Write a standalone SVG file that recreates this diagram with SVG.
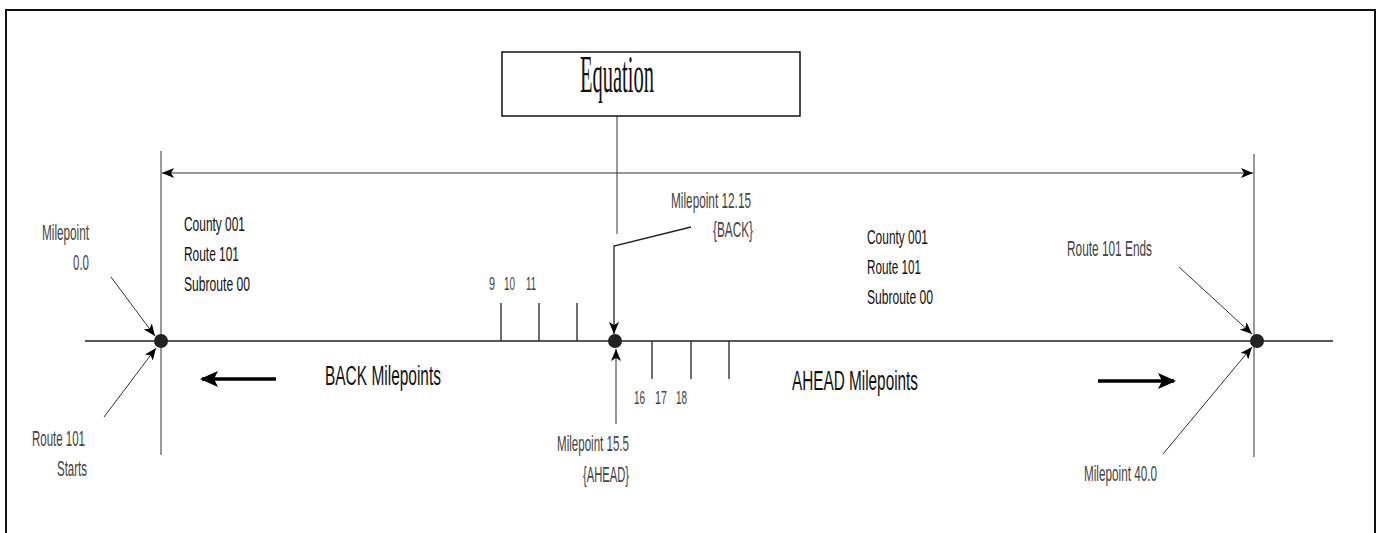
<svg xmlns="http://www.w3.org/2000/svg" width="1377" height="533" viewBox="0 0 1377 533">
<style>
  .ln { stroke: #222; stroke-width: 1.3; fill: none; }
  .thin { stroke: #333; stroke-width: 1; fill: none; }
  .thick { stroke: #000; stroke-width: 3.5; fill: none; }
  .lbl { font-family: "Liberation Sans", Arial, sans-serif; font-size: 22px; fill: #444; }
  .num { font-family: "Liberation Sans", Arial, sans-serif; font-size: 18px; fill: #444; }
  .info { font-family: "Liberation Sans", Arial, sans-serif; font-size: 21px; fill: #111; }
  .big { font-family: "Liberation Sans", Arial, sans-serif; font-size: 27px; fill: #111; }
  .eq { font-family: "Liberation Serif", "Times New Roman", serif; font-size: 53px; fill: #111; }
  .dot { fill: #222; }
</style>
<defs>
  <marker id="ah" viewBox="0 0 12 10" refX="12" refY="5" markerWidth="12" markerHeight="10" orient="auto-start-reverse" markerUnits="userSpaceOnUse">
    <path d="M0,0 L12,5 L0,10 L3,5 z" fill="#000"/>
  </marker>
  <marker id="ahs" viewBox="0 0 12 10" refX="12" refY="5" markerWidth="12" markerHeight="10" orient="auto" markerUnits="userSpaceOnUse">
    <path d="M0,0 L12,5 L0,10 L3,5 z" fill="#000"/>
  </marker>
  <marker id="ahb" viewBox="0 0 18 16" refX="16" refY="8" markerWidth="18" markerHeight="16" orient="auto" markerUnits="userSpaceOnUse">
    <path d="M0,0 L18,8 L0,16 L4,8 z" fill="#000"/>
  </marker>
</defs>
<rect width="1377" height="533" fill="#fff"/>
<rect x="6" y="10" width="1369" height="530" fill="none" stroke="#111" stroke-width="2"/>

<g id="connectors">
  <line class="ln" x1="85" y1="341" x2="1333" y2="341"/>
  <line class="thin" x1="161" y1="151" x2="161" y2="455"/>
  <line class="thin" x1="1254" y1="154" x2="1254" y2="457"/>
  <line class="thin" x1="162" y1="173" x2="1253" y2="173" marker-start="url(#ah)" marker-end="url(#ah)"/>
  <line class="thin" x1="617" y1="116" x2="617" y2="234"/>
  <polyline class="ln" points="691,227 614,246 614,334" marker-end="url(#ahs)"/>
  <line class="thin" x1="616" y1="424" x2="616" y2="349" marker-end="url(#ahs)"/>
  <line class="thin" x1="111" y1="277" x2="155" y2="336" marker-end="url(#ahs)"/>
  <line class="thin" x1="104" y1="417" x2="156" y2="348" marker-end="url(#ahs)"/>
  <line class="thin" x1="1179" y1="267" x2="1252" y2="334" marker-end="url(#ahs)"/>
  <line class="thin" x1="1163" y1="454" x2="1252" y2="347" marker-end="url(#ahs)"/>
  <line class="ln" x1="501" y1="303" x2="501" y2="341"/>
  <line class="ln" x1="539" y1="303" x2="539" y2="341"/>
  <line class="ln" x1="577" y1="303" x2="577" y2="341"/>
  <line class="ln" x1="652" y1="341" x2="652" y2="379"/>
  <line class="ln" x1="691" y1="341" x2="691" y2="379"/>
  <line class="ln" x1="729" y1="341" x2="729" y2="379"/>
  <line class="thick" x1="276" y1="379" x2="202" y2="379" marker-end="url(#ahb)"/>
  <line class="thick" x1="1098" y1="381" x2="1174" y2="381" marker-end="url(#ahb)"/>
</g>

<g id="node-equation">
  <rect x="502" y="52" width="298" height="64" fill="#fff" stroke="#111" stroke-width="1.5"/>
  <text class="eq" x="580" y="92" textLength="74" lengthAdjust="spacingAndGlyphs">Equation</text>
</g>

<g id="node-start">
  <circle class="dot" cx="161" cy="341" r="7"/>
  <text class="lbl" x="42" y="240" textLength="47" lengthAdjust="spacingAndGlyphs">Milepoint</text>
  <text class="lbl" x="73" y="270" textLength="16" lengthAdjust="spacingAndGlyphs">0.0</text>
  <text class="lbl" x="32" y="446" textLength="53" lengthAdjust="spacingAndGlyphs">Route 101</text>
  <text class="lbl" x="57" y="476" textLength="30" lengthAdjust="spacingAndGlyphs">Starts</text>
</g>

<g id="node-info-back">
  <text class="info" x="184" y="231" textLength="61" lengthAdjust="spacingAndGlyphs">County 001</text>
  <text class="info" x="184" y="261" textLength="55" lengthAdjust="spacingAndGlyphs">Route 101</text>
  <text class="info" x="184" y="291" textLength="66" lengthAdjust="spacingAndGlyphs">Subroute 00</text>
</g>

<g id="node-info-ahead">
  <text class="info" x="867" y="244" textLength="61" lengthAdjust="spacingAndGlyphs">County 001</text>
  <text class="info" x="867" y="274" textLength="54" lengthAdjust="spacingAndGlyphs">Route 101</text>
  <text class="info" x="867" y="304" textLength="66" lengthAdjust="spacingAndGlyphs">Subroute 00</text>
</g>

<g id="node-back-ticks">
  <text class="num" x="489" y="290" textLength="6" lengthAdjust="spacingAndGlyphs">9</text>
  <text class="num" x="504" y="290" textLength="11" lengthAdjust="spacingAndGlyphs">10</text>
  <text class="num" x="526" y="290" textLength="10" lengthAdjust="spacingAndGlyphs">11</text>
</g>

<g id="node-ahead-ticks">
  <text class="num" x="634" y="404" textLength="11" lengthAdjust="spacingAndGlyphs">16</text>
  <text class="num" x="655" y="404" textLength="12" lengthAdjust="spacingAndGlyphs">17</text>
  <text class="num" x="676" y="404" textLength="11" lengthAdjust="spacingAndGlyphs">18</text>
</g>

<g id="node-equation-point">
  <circle class="dot" cx="615" cy="341" r="7"/>
  <text class="lbl" x="671" y="208" textLength="80" lengthAdjust="spacingAndGlyphs">Milepoint 12.15</text>
  <text class="lbl" x="713" y="237" textLength="40" lengthAdjust="spacingAndGlyphs">{BACK}</text>
  <text class="lbl" x="557" y="451" textLength="72" lengthAdjust="spacingAndGlyphs">Milepoint 15.5</text>
  <text class="lbl" x="583" y="482" textLength="46" lengthAdjust="spacingAndGlyphs">{AHEAD}</text>
</g>

<g id="node-end">
  <circle class="dot" cx="1257" cy="341" r="7"/>
  <text class="lbl" x="1067" y="256" textLength="85" lengthAdjust="spacingAndGlyphs">Route 101 Ends</text>
  <text class="lbl" x="1084" y="481" textLength="73" lengthAdjust="spacingAndGlyphs">Milepoint 40.0</text>
</g>

<g id="node-directions">
  <text class="big" x="325" y="385" textLength="116" lengthAdjust="spacingAndGlyphs">BACK Milepoints</text>
  <text class="big" x="792" y="390" textLength="126" lengthAdjust="spacingAndGlyphs">AHEAD Milepoints</text>
</g>
</svg>
